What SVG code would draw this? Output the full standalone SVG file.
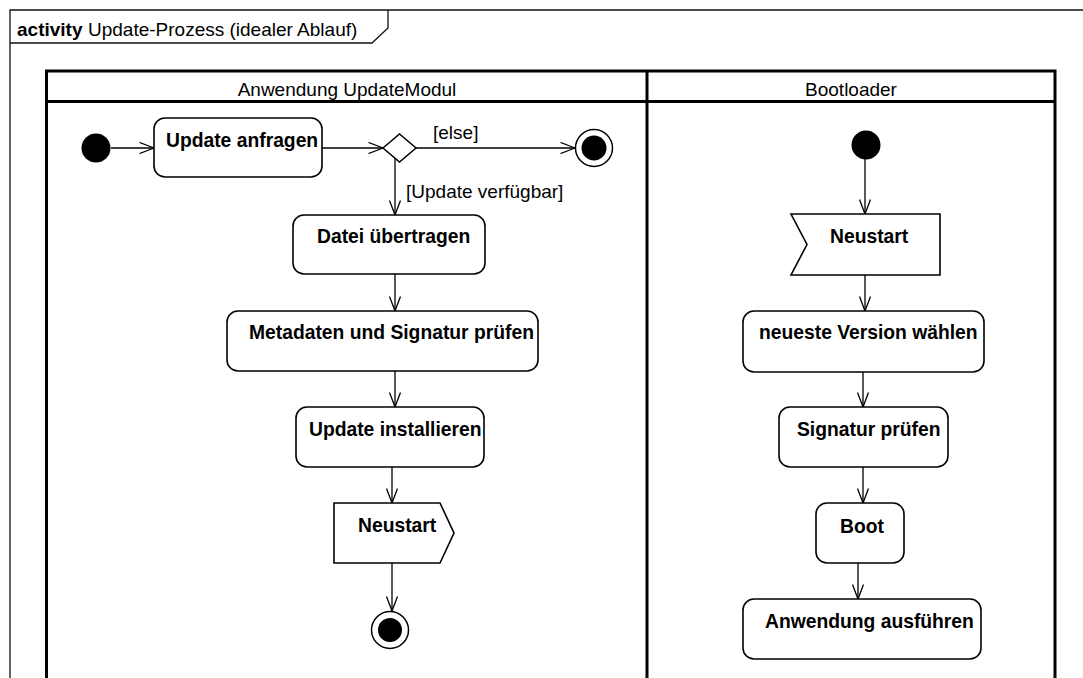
<svg xmlns="http://www.w3.org/2000/svg" width="1083" height="678" viewBox="0 0 1083 678">
<style>
text{font-family:"Liberation Sans",Arial,Helvetica,sans-serif;fill:#000}
.reg{font-size:19px}
.bold{font-size:19.3px;font-weight:bold}
.act{fill:#fff;stroke:#000;stroke-width:1.6}
.frame{fill:none;stroke:#111;stroke-width:1.3}
.lane{fill:none;stroke:#000;stroke-width:3}
.edge{fill:none;stroke:#000;stroke-width:1.3;marker-end:url(#arr)}
</style>
<defs>
<marker id="arr" markerUnits="userSpaceOnUse" viewBox="0 0 16 12" refX="15" refY="6" markerWidth="16" markerHeight="12" orient="auto">
<path d="M0.5,0.5 L15,6 L0.5,11.5" fill="none" stroke="#000" stroke-width="1.3"/>
</marker>
</defs>
<rect width="1083" height="678" fill="#fff"/>
<g id="frame">
<path class="frame" d="M1083,10 L10,10 L10,678"/>
<path class="frame" d="M10,43 L372,43 L388,28 L388,10"/>
<text x="17" y="36" class="bold" style="font-size:19px">activity</text>
<text x="88" y="36" class="reg">Update-Prozess (idealer Ablauf)</text>
</g>
<g id="lanes">
<path class="lane" d="M46.5,678 L46.5,71 L1055,71 L1055,678"/>
<path class="lane" d="M46.5,101.5 L1055,101.5"/>
<path class="lane" d="M647,71 L647,678"/>
<text x="347" y="96" class="reg" text-anchor="middle">Anwendung UpdateModul</text>
<text x="851" y="96" class="reg" text-anchor="middle">Bootloader</text>
</g>
<g id="connectors">
<path class="edge" d="M111,148 L154,148"/>
<path class="edge" d="M322,148 L383,148"/>
<path class="edge" d="M416,148 L575,148"/>
<text x="433" y="139" class="reg">[else]</text>
<path class="edge" d="M395,157 L395,215"/>
<text x="406" y="198" class="reg">[Update verfügbar]</text>
<path class="edge" d="M395,274 L395,311"/>
<path class="edge" d="M395,371 L395,407"/>
<path class="edge" d="M392,467 L392,503"/>
<path class="edge" d="M392,563 L392,611"/>
<path class="edge" d="M865,159 L865,214"/>
<path class="edge" d="M865,275 L865,311"/>
<path class="edge" d="M863,372 L863,407"/>
<path class="edge" d="M863,467 L863,503"/>
<path class="edge" d="M858,563 L858,599"/>
</g>
<g id="start1"><circle cx="96" cy="148" r="14.5" fill="#000"/></g>
<g id="updateAnfragen">
<rect class="act" x="154" y="118" width="168" height="59" rx="11"/>
<text x="166" y="147" class="bold">Update anfragen</text>
</g>
<g id="decision"><polygon points="383,148 399.5,134 416,148 399.5,162" fill="#fff" stroke="#000" stroke-width="1.5"/></g>
<g id="final1">
<circle cx="594" cy="148" r="18.5" fill="#fff" stroke="#000" stroke-width="1.5"/>
<circle cx="594" cy="148" r="12.5" fill="#000"/>
</g>
<g id="dateiUebertragen">
<rect class="act" x="293" y="215" width="192" height="59" rx="11"/>
<text x="317" y="243" class="bold">Datei übertragen</text>
</g>
<g id="metadaten">
<rect class="act" x="227" y="311" width="311" height="60" rx="11"/>
<text x="249" y="339" class="bold">Metadaten und Signatur prüfen</text>
</g>
<g id="installieren">
<rect class="act" x="296" y="407" width="188" height="60" rx="11"/>
<text x="309" y="436" class="bold">Update installieren</text>
</g>
<g id="neustartSend">
<polygon class="act" points="334,503 440,503 454,533 440,563 334,563"/>
<text x="358" y="532" class="bold">Neustart</text>
</g>
<g id="final2">
<circle cx="390" cy="630" r="18.5" fill="#fff" stroke="#000" stroke-width="1.5"/>
<circle cx="390" cy="630" r="12" fill="#000"/>
</g>
<g id="start2"><circle cx="866" cy="145" r="14.5" fill="#000"/></g>
<g id="neustartAccept">
<polygon class="act" points="791,214 940,214 940,275 791,275 807,244.5"/>
<text x="830" y="243" class="bold">Neustart</text>
</g>
<g id="neuesteVersion">
<rect class="act" x="743" y="311" width="241" height="61" rx="11"/>
<text x="759" y="339" class="bold">neueste Version wählen</text>
</g>
<g id="signaturPruefen">
<rect class="act" x="779" y="407" width="169" height="60" rx="11"/>
<text x="797" y="436" class="bold">Signatur prüfen</text>
</g>
<g id="boot">
<rect class="act" x="816" y="503" width="88" height="60" rx="11"/>
<text x="840" y="533" class="bold">Boot</text>
</g>
<g id="anwendungAusfuehren">
<rect class="act" x="743" y="599" width="238" height="60" rx="11"/>
<text x="765" y="628" class="bold">Anwendung ausführen</text>
</g>
</svg>
